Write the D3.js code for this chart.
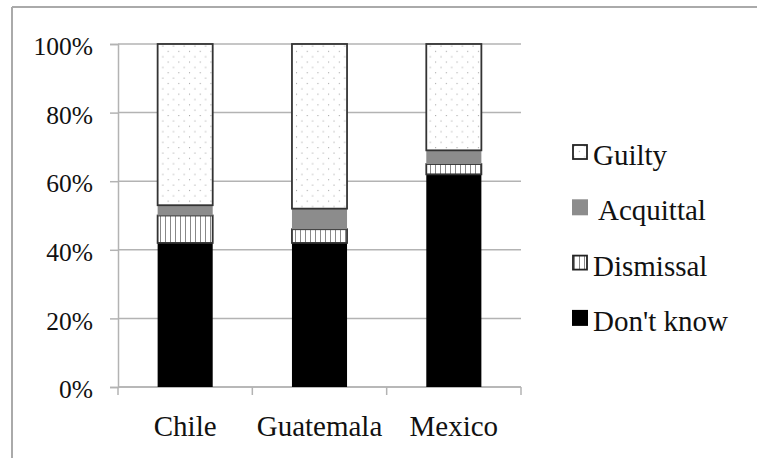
<!DOCTYPE html>
<html>
<head>
<meta charset="utf-8">
<script src="https://cdn.jsdelivr.net/npm/d3@7"></script>
<style>
  body { margin: 0; background: #fff; }
  svg { display: block; }
  svg text { font-family: "Times New Roman", Times, "Liberation Serif", "DejaVu Serif", serif !important; fill: #111; }
</style>
</head>
<body>
<svg id="chart" width="757" height="458"></svg>
<script>
// chart data
var countries = ["Chile", "Guatemala", "Mexico"];
var dontKnow  = [42, 42, 62];
var dismissal = [8, 4, 3];
var acquittal = [3, 6, 4];
var guilty    = [47, 48, 31];
var seriesNames = ["Don't know", "Dismissal", "Acquittal", "Guilty"];
var yTicks = [0, 20, 40, 60, 80, 100];

var svg = d3.select("#chart");
var margin = {top: 44, left: 118, right: 236, bottom: 71};
var width = +svg.attr("width") - margin.left - margin.right;
var height = +svg.attr("height") - margin.top - margin.bottom;

// patterns
var defs = svg.append("defs");
var dots = defs.append("pattern").attr("id", "dots")
    .attr("patternUnits", "userSpaceOnUse").attr("width", 10.7).attr("height", 10.7);
dots.append("rect").attr("width", 10.7).attr("height", 10.7).attr("fill", "#fff");
dots.append("circle").attr("cx", 2).attr("cy", 2).attr("r", 0.6).attr("fill", "#999");
dots.append("circle").attr("cx", 7.35).attr("cy", 7.35).attr("r", 0.6).attr("fill", "#999");

var stripes = defs.append("pattern").attr("id", "stripes")
    .attr("patternUnits", "userSpaceOnUse").attr("width", 5).attr("height", 10);
stripes.append("rect").attr("width", 5).attr("height", 10).attr("fill", "#fff");
stripes.append("rect").attr("x", 2).attr("width", 1).attr("height", 10).attr("fill", "#888");

var fills = {"Don't know": "#000", "Dismissal": "url(#stripes)", "Acquittal": "#8c8c8c", "Guilty": "url(#dots)"};
var strokes = {"Don't know": "none", "Dismissal": "#333", "Acquittal": "none", "Guilty": "#333"};

// outer frame
svg.append("line").attr("x1", 12).attr("x2", 757).attr("y1", 7).attr("y2", 7)
    .attr("stroke", "#aaa").attr("stroke-width", 2);
svg.append("line").attr("x1", 12).attr("x2", 12).attr("y1", 7).attr("y2", 458)
    .attr("stroke", "#aaa").attr("stroke-width", 2);

var g = svg.append("g").attr("transform", "translate(" + margin.left + "," + margin.top + ")");

var x = d3.scaleBand().domain(countries).range([0, width]).padding(0);
var y = d3.scaleLinear().domain([0, 100]).range([height, 0]);

// gridlines
g.append("g").selectAll("line").data(yTicks).join("line")
    .attr("x1", 0).attr("x2", width)
    .attr("y1", function (d) { return y(d); })
    .attr("y2", function (d) { return y(d); })
    .attr("stroke", "#b3b3b3").attr("stroke-width", 1.5);

// y axis
var yAxis = g.append("g")
    .call(d3.axisLeft(y).tickValues(yTicks).tickSize(8).tickPadding(17)
        .tickFormat(function (d) { return d + "%"; }));
yAxis.attr("font-family", null).attr("font-size", null);
yAxis.select(".domain").attr("stroke", "#b3b3b3").attr("stroke-width", 1.5);
yAxis.selectAll(".tick line").attr("stroke", "#b3b3b3").attr("stroke-width", 1.5);
yAxis.selectAll(".tick text").attr("font-size", 25.5).attr("dy", "0.42em").attr("fill", "#111");

// x axis: ticks at category boundaries
var xb = g.append("g").attr("transform", "translate(0," + height + ")");
xb.append("line").attr("x1", 0).attr("x2", width).attr("stroke", "#b3b3b3").attr("stroke-width", 1.5);
var bounds = countries.map(function (c) { return x(c); }).concat([width]);
xb.selectAll(".bt").data(bounds).join("line").attr("class", "bt")
    .attr("x1", function (d) { return d; }).attr("x2", function (d) { return d; })
    .attr("y1", 0).attr("y2", 8).attr("stroke", "#b3b3b3").attr("stroke-width", 1.5);
xb.selectAll(".cl").data(countries).join("text").attr("class", "cl")
    .attr("x", function (d) { return x(d) + x.bandwidth() / 2; })
    .attr("y", 49)
    .attr("text-anchor", "middle").attr("font-size", 29)
    .text(function (d) { return d; });

// stacked bars
var rows = countries.map(function (c, i) {
    return {country: c, "Don't know": dontKnow[i], "Dismissal": dismissal[i],
            "Acquittal": acquittal[i], "Guilty": guilty[i]};
});
var stack = d3.stack().keys(seriesNames)(rows);
var barW = x.bandwidth() * 0.41;

stack.forEach(function (layer) {
    var key = layer.key;
    g.append("g").selectAll("rect").data(layer).join("rect")
        .attr("x", function (d) { return x(d.data.country) + (x.bandwidth() - barW) / 2; })
        .attr("y", function (d) { return y(d[1]); })
        .attr("width", barW)
        .attr("height", function (d) { return y(d[0]) - y(d[1]); })
        .attr("fill", fills[key])
        .attr("stroke", strokes[key])
        .attr("stroke-width", 1.8);
});

// legend
var legendOrder = ["Guilty", "Acquittal", "Dismissal", "Don't know"];
var leg = svg.append("g").attr("transform", "translate(572,144)");
var item = leg.selectAll("g").data(legendOrder).join("g")
    .attr("transform", function (d, i) { return "translate(0," + (i * 55.3) + ")"; });
item.append("rect")
    .attr("x", function (d) { return strokes[d] === "none" ? 0 : 1; })
    .attr("y", function (d) { return strokes[d] === "none" ? 0 : 1; })
    .attr("width", function (d) { return strokes[d] === "none" ? 16 : 14; })
    .attr("height", function (d) { return strokes[d] === "none" ? 16 : 14; })
    .attr("fill", function (d) { return fills[d]; })
    .attr("stroke", function (d) { return strokes[d] === "none" ? "none" : "#222"; })
    .attr("stroke-width", 1.8);
item.append("text")
    .attr("x", function (d) { return d === "Acquittal" ? 26 : 21; })
    .attr("y", 21)
    .attr("font-size", 29)
    .text(function (d) { return d; });
</script>
</body>
</html>
